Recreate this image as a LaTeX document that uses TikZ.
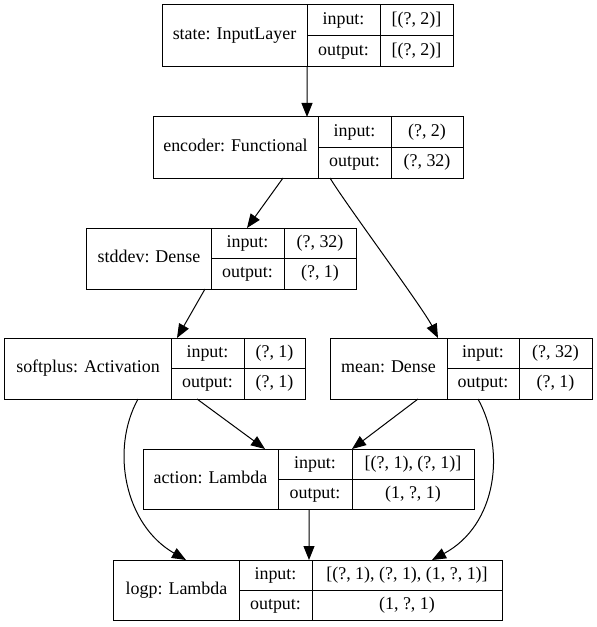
\documentclass[tikz,border=0pt]{standalone}
\usepackage{fontspec}
\setmainfont{Liberation Serif}
\usetikzlibrary{arrows.meta}
\tikzset{
  layerbox/.style={draw=black, line width=1bp, inner sep=0pt, outer sep=0pt, fill=white},
  innerline/.style={draw=black, line width=1bp},
  txt/.style={inner sep=0pt, text height=12bp, text depth=4bp, font=\fontsize{18}{22}\selectfont},
  edge/.style={draw=black, line width=1bp, -{Triangle[length=14bp,width=11bp]}}
}
\def\kxparse#1,#2,#3,#4\relax{\def\kxa{#1}\def\kxb{#2}\def\kxc{#3}\def\kxd{#4}}
\def\kyparse#1,#2\relax{\def\kya{#1}\def\kyb{#2}}
\newcommand\klayer[6]{%
  \kxparse#2\relax\kyparse#3\relax
  \pgfmathsetmacro\kcx{(\kxa+\kxd)/2}%
  \pgfmathsetmacro\kcy{(\kya+\kyb)/2}%
  \pgfmathsetmacro\kw{\kxd-\kxa}%
  \pgfmathsetmacro\kh{\kyb-\kya}%
  \pgfmathsetmacro\kmida{(\kxa+\kxb)/2}%
  \pgfmathsetmacro\kmidb{(\kxb+\kxc)/2}%
  \pgfmathsetmacro\kmidc{(\kxc+\kxd)/2}%
  \pgfmathsetmacro\kya{(\kya+\kcy)/2}%
  \pgfmathsetmacro\kyo{(\kcy+\kyb)/2}%
  \node[layerbox, minimum width=\kw bp, minimum height=\kh bp] (#1) at (\kcx,\kcy) {};
  \draw[innerline] (\kxb,\kyb) -- ++(0,-\kh) (\kxc,\kyb) -- ++(0,-\kh) (\kxb,\kcy) -- (\kxd,\kcy);
  \node[txt] (#1-label) at (\kmida,\kcy) {#4};
  \node[txt] (#1-inlab) at (\kmidb,\kya) {input:};
  \node[txt] (#1-outlab) at (\kmidb,\kyo) {output:};
  \node[txt] (#1-in) at (\kmidc,\kya) {#5};
  \node[txt] (#1-out) at (\kmidc,\kyo) {#6};
}
\begin{document}
\begin{tikzpicture}[x=1bp,y=-1bp]
\useasboundingbox (0,0) rectangle (597,627);
\klayer{state}{162,307,380,453}{5,67}{state: InputLayer}{[(?, 2)]}{[(?, 2)]}
\klayer{encoder}{153,318,391,463}{117,178}{encoder: Functional}{(?, 2)}{(?, 32)}
\klayer{stddev}{87,211,284,356}{228,289}{stddev: Dense}{(?, 32)}{(?, 1)}
\klayer{softplus}{5,171,244,305}{338,399}{softplus: Activation}{(?, 1)}{(?, 1)}
\klayer{mean}{330,447,519,592}{338,399}{mean: Dense}{(?, 32)}{(?, 1)}
\klayer{action}{143,278,352,474}{449,509}{action: Lambda}{[(?, 1), (?, 1)]}{(1, ?, 1)}
\klayer{logp}{114,239,312,502}{560,620}{logp: Lambda}{[(?, 1), (?, 1), (1, ?, 1)]}{(1, ?, 1)}
% connectors
\draw[edge] ([xshift=145bp]state.south west) -- ([xshift=154bp]encoder.north west);
\draw[edge] ([xshift=130bp]encoder.south west) -- ([xshift=160bp]stddev.north west);
\draw[edge] ([xshift=177bp]encoder.south west) .. controls +(15,25) and +(-15,-30) .. ([xshift=108bp]mean.north west);
\draw[edge] ([xshift=118bp]stddev.south west) -- ([xshift=172bp]softplus.north west);
\draw[edge] ([xshift=192bp]softplus.south west) -- ([xshift=122bp]action.north west);
\draw[edge] ([xshift=88bp]mean.south west) -- ([xshift=209bp]action.north west);
\draw[edge] ([xshift=133bp]softplus.south west) .. controls +(-28,51) and +(-61,-35) .. ([xshift=72bp]logp.north west);
\draw[edge] ([xshift=148bp]mean.south west) .. controls +(28,51) and +(65,-35) .. ([xshift=318bp]logp.north west);
\draw[edge] ([xshift=166bp]action.south west) -- ([xshift=195bp]logp.north west);
\end{tikzpicture}
\end{document}
